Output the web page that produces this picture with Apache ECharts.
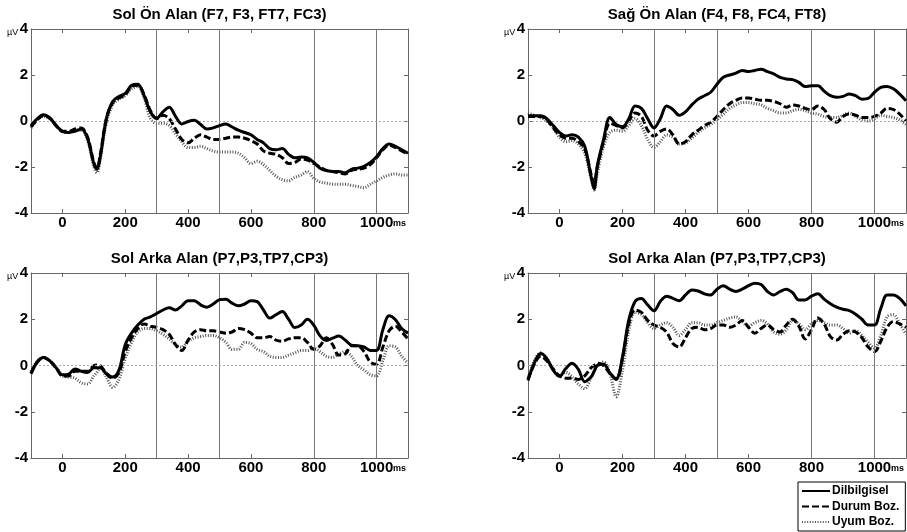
<!DOCTYPE html>
<html><head><meta charset="utf-8">
<script src="https://cdn.jsdelivr.net/npm/echarts@6/dist/echarts.min.js"></script>
<style>html,body{margin:0;padding:0;background:#fff}#c{width:907px;height:532px}</style>
</head><body><div id="c"></div>
<script>
const times = [-100,-80,-60,-40,-20,0,20,40,60,80,100,110,120,140,160,180,200,220,240,260,280,300,320,340,360,380,400,420,440,460,480,500,520,540,560,580,600,620,640,660,680,700,720,740,760,780,800,820,840,860,880,900,920,940,960,980,1000,1020,1040,1060,1080,1100];
const seriesNames = ['Dilbilgisel','Durum Boz.','Uyum Boz.'];
const titles = ['Sol Ön Alan (F7, F3, FT7, FC3)','Sağ Ön Alan (F4, F8, FC4, FT8)','Sol Arka Alan (P7,P3,TP7,CP3)','Sol Arka Alan (P7,P3,TP7,CP3)'];
const xTickValues = [0,200,400,600,800,1000];
const yTickValues = [-4,-2,0,2,4];
const markerTimes = [300,500,800,1000];

// Panel 1: Sol Ön Alan
const p1Dil = [-0.2,0.1,0.27,0.13,-0.2, -0.45,-0.5,-0.45,-0.35,-0.75, -1.85,-2.1,-1.6, 0.1,0.85,1.07,1.2, 1.55,1.6,1.1,0.4,0.12, 0.4,0.6,0.2,-0.13,-0.02, 0.03,-0.15,-0.35,-0.3,-0.2, -0.13,-0.26,-0.4,-0.5,-0.6, -0.8,-0.95,-1.2,-1.25,-1.2, -1.45,-1.6,-1.57,-1.6,-1.8, -2.05,-2.15,-2.2,-2.2,-2.25, -2.1,-2.05,-1.97,-1.8,-1.55, -1.2,-1.0,-1.1,-1.25,-1.4];
const p1Dur = [-0.25,0.05,0.25,0.12,-0.2, -0.45,-0.45,-0.35,-0.3,-0.7, -1.8,-2.05,-1.5, 0.1,0.8,1.0,1.15, 1.5,1.55,1.15,0.45,0.1, 0.25,0.1,-0.35,-0.8,-0.95, -0.75,-0.6,-0.7,-0.8,-0.8, -0.75,-0.7,-0.7,-0.75,-0.85, -1.0,-1.3,-1.4,-1.45,-1.6, -1.85,-1.8,-1.65,-1.7,-1.85, -2.0,-2.15,-2.2,-2.25,-2.3, -2.15,-2.1,-2.05,-1.9,-1.6, -1.25,-1.05,-1.15,-1.3,-1.45];
const p1Uyu = [-0.3,0.05,0.2,0.1,-0.2, -0.45,-0.5,-0.4,-0.4,-0.85, -2.0,-2.25,-1.7, -0.1,0.7,0.95,1.1, 1.4,1.5,1.0,0.1,-0.1, -0.1,-0.2,-0.55,-0.9,-1.15, -1.15,-1.1,-1.2,-1.3,-1.35, -1.35,-1.35,-1.4,-1.6,-1.85, -1.75,-1.9,-2.15,-2.4,-2.55, -2.6,-2.45,-2.35,-2.2,-2.5, -2.65,-2.7,-2.75,-2.75,-2.75, -2.8,-2.85,-2.9,-2.75,-2.6, -2.45,-2.35,-2.3,-2.35,-2.35];
// Panel 2: Sağ Ön Alan
const p2Dil = [0.23,0.23,0.23,0.1,-0.2, -0.5,-0.65,-0.6,-0.7,-1.1, -2.4,-2.95,-1.95, -0.8,0.15,-0.15,-0.25, 0.1,0.65,0.55,0.1,-0.3, 0.1,0.65,0.5,0.25,0.4, 0.7,0.95,1.1,1.25,1.6, 1.9,2.0,2.08,2.2,2.15, 2.2,2.25,2.15,2.05,1.9, 1.83,1.8,1.68,1.5,1.53, 1.53,1.3,1.1,1.03,1.07, 1.17,1.1,0.95,0.98,1.25, 1.46,1.5,1.4,1.17,0.88];
const p2Dur = [0.2,0.2,0.2,0.05,-0.3, -0.6,-0.75,-0.75,-0.9,-1.2, -2.3,-2.7,-2.0, -0.9,-0.1,-0.2,-0.3, 0.0,0.35,0.2,-0.4,-0.65, -0.45,-0.35,-0.6,-1.0,-0.9, -0.6,-0.4,-0.2,-0.05,0.2, 0.5,0.75,0.9,1.0,1.0, 0.95,0.9,0.9,0.85,0.75, 0.6,0.7,0.65,0.55,0.5, 0.65,0.5,0.1,-0.05,0.2, 0.3,0.25,0.15,0.15,0.2, 0.35,0.55,0.5,0.3,0.0];
const p2Uyu = [0.35,0.25,0.15,0.0,-0.3, -0.7,-0.9,-0.85,-1.0,-1.4, -2.5,-3.0,-2.3, -1.1,-0.5,-0.4,-0.45, -0.2,0.1,-0.2,-0.8,-1.15, -0.9,-0.6,-0.7,-1.0,-0.95, -0.75,-0.5,-0.3,-0.15,0.05, 0.3,0.55,0.7,0.8,0.8, 0.75,0.7,0.55,0.45,0.35, 0.35,0.45,0.5,0.45,0.35, 0.3,0.2,0.15,0.15,0.25, 0.35,0.2,0.05,0.0,0.1, 0.25,0.2,0.15,0.05,-0.15];
// Panel 3: Sol Arka Alan (left)
const p3Dil = [-0.35,0.15,0.35,0.2,-0.1, -0.4,-0.37,-0.15,-0.25,-0.3, -0.1,-0.1,-0.1, -0.35,-0.5,-0.2,0.9, 1.4,1.75,2.0,2.1,2.25, 2.4,2.5,2.4,2.58,2.8, 2.8,2.62,2.52,2.66,2.85, 2.87,2.7,2.58,2.66,2.8, 2.76,2.4,2.05,2.2,2.33, 2.0,1.64,1.75,2.0,1.75, 1.28,1.08,1.18,1.28,1.1, 0.88,0.85,0.8,0.65,0.65, 1.55,2.15,1.98,1.6,1.4];
const p3Dur = [-0.35,0.15,0.35,0.2,-0.1, -0.45,-0.45,-0.25,-0.25,-0.25, 0.0,0.02,0.0, -0.35,-0.55,-0.3,0.6, 1.2,1.6,1.8,1.7,1.65, 1.55,1.35,0.9,0.65,1.1, 1.45,1.55,1.5,1.5,1.45, 1.4,1.45,1.6,1.55,1.4, 1.2,1.2,1.25,1.1,1.05, 1.15,1.2,1.2,1.0,0.7, 0.85,1.2,0.9,0.45,0.5, 0.85,0.85,0.6,0.15,0.05, 0.8,1.5,1.7,1.45,1.15];
const p3Uyu = [-0.25,0.2,0.35,0.2,-0.1, -0.45,-0.5,-0.55,-0.75,-0.8, -0.45,-0.3,-0.1, -0.5,-0.95,-0.6,0.3, 1.0,1.45,1.6,1.6,1.5, 1.35,1.15,0.9,0.8,1.05, 1.2,1.25,1.3,1.3,1.2, 1.0,0.7,0.7,1.0,0.95, 0.7,0.6,0.4,0.35,0.35, 0.45,0.55,0.65,0.65,0.75, 0.6,0.4,0.35,0.5,0.6, 0.4,0.0,-0.2,-0.4,-0.45, 0.2,0.85,0.8,0.4,0.1];
// Panel 4: Sol Arka Alan (right)
const p4Dil = [-0.65,0.1,0.52,0.3,-0.2, -0.47,-0.13,0.1,-0.17,-0.7, -0.5,-0.25,0.0, 0.05,-0.32,-0.57,0.38, 1.97,2.77,2.9,2.62,2.37, 2.77,3.0,2.9,2.8,3.05, 3.27,3.22,3.1,3.05,3.3, 3.45,3.3,3.2,3.3,3.45, 3.56,3.5,3.2,3.05,3.2, 3.3,3.15,2.83,2.83,3.0, 3.1,2.87,2.67,2.52,2.43, 2.37,2.22,2.0,1.75,1.75, 2.47,3.05,3.05,2.9,2.58];
const p4Dur = [-0.6,0.05,0.4,0.2,-0.15, -0.45,-0.55,-0.55,-0.6,-0.45, -0.1,0.0,0.1, 0.0,-0.35,-0.6,0.3, 1.8,2.4,2.3,1.95,1.75, 1.65,1.45,0.95,0.8,1.2, 1.6,1.65,1.55,1.6,1.75, 1.75,1.65,1.75,1.95,1.65, 1.4,1.6,1.75,1.55,1.45, 1.75,2.0,1.7,1.15,1.55, 2.05,1.8,1.25,1.1,1.35, 1.5,1.45,1.2,0.8,0.6, 1.05,1.65,1.9,1.8,1.65];
const p4Uyu = [-0.55,0.2,0.55,0.3,-0.2, -0.45,-0.3,-0.5,-0.8,-1.0, -0.55,-0.25,0.0, 0.15,-0.35,-1.35,-0.2, 1.5,2.3,2.2,1.85,1.6, 1.75,1.85,1.65,1.3,1.55, 1.85,1.85,1.75,1.75,1.85, 1.95,2.05,2.1,1.9,1.7, 1.85,1.95,1.8,1.45,1.35, 1.55,1.95,1.8,1.55,1.8, 1.95,1.85,1.75,1.75,1.6, 1.4,1.5,1.3,1.0,0.75, 1.3,2.1,2.2,1.8,1.35];

const panelData = [[p1Dil,p1Dur,p1Uyu],[p2Dil,p2Dur,p2Uyu],[p3Dil,p3Dur,p3Uyu],[p4Dil,p4Dur,p4Uyu]];

const grids = [
  {left:31, top:29, width:377, height:184},
  {left:528, top:29, width:378, height:184},
  {left:31, top:273, width:377, height:185},
  {left:528, top:273, width:378, height:185}
];
const FONT = 'Liberation Sans, Arial, sans-serif';
const axisCol = '#666';
const lineStyles = [
  {color:'#000', width:3, type:'solid'},
  {color:'#000', width:3, type:[7,3]},
  {color:'#555', width:3, type:[1,1.6]}
];

const xAxis = [], yAxis = [], series = [], title = [], graphic = [];
grids.forEach((g, gi) => {
  ['bottom','top'].forEach((pos, k) => {
    xAxis.push({
      type:'value', gridIndex:gi, position:pos, min:-100, max:1100, interval:100,
      axisLine:{show:true, onZero:false, lineStyle:{color:axisCol, width:1}},
      axisTick:{show:true, inside:true, length:4, customValues:xTickValues, lineStyle:{color:axisCol}},
      axisLabel:{show:k===0, customValues:xTickValues, formatter: v => String(v), margin:2, color:'#000', fontFamily:FONT, fontWeight:'bold', fontSize:15},
      splitLine:{show:false}
    });
  });
  ['left','right'].forEach((pos, k) => {
    yAxis.push({
      type:'value', gridIndex:gi, position:pos, min:-4, max:4, interval:2,
      axisLine:{show:true, onZero:false, lineStyle:{color:axisCol, width:1}},
      axisTick:{show:true, inside:true, length:4, customValues:yTickValues, lineStyle:{color:axisCol}},
      axisLabel:{show:k===0, customValues:yTickValues, formatter: v => String(v), margin:3, color:'#000', fontFamily:FONT, fontWeight:'bold', fontSize:15},
      splitLine:{show:false}
    });
  });
  title.push({
    text: titles[gi], left: g.left + g.width/2, top: g.top - 22, textAlign:'center', padding:0,
    textStyle:{fontFamily:FONT, fontWeight:'bold', fontSize:15, color:'#000'}
  });
  graphic.push({type:'text', left:g.left-24, top:g.top-1, style:{text:'µV', font:'9px '+FONT, fill:'#000'}});
  graphic.push({type:'text', left:g.left+g.width-15, top:g.top+g.height+6, style:{text:'ms', font:'bold 9px '+FONT, fill:'#000'}});
  // draw dotted first, then dashed, then solid on top
  [2,1,0].forEach((si, order) => {
    const s = {
      name: seriesNames[si], type:'line', xAxisIndex: gi*2, yAxisIndex: gi*2,
      data: times.map((t, i) => [t, panelData[gi][si][i]]),
      showSymbol:false, symbol:'none', smooth:0.35, lineStyle: lineStyles[si], itemStyle:{color: lineStyles[si].color},
      animation:false, z: 3 + order
    };
    if (order === 0) {
      s.markLine = {
        silent:true, symbol:'none', label:{show:false}, animation:false,
        data: markerTimes.map(t => ({xAxis:t, lineStyle:{color:'#777', width:1, type:'solid'}}))
          .concat([{yAxis:0, lineStyle:{color:'#aaa', width:1, type:[2,2]}}])
      };
    }
    series.push(s);
  });
});

const chart = echarts.init(document.getElementById('c'), null, {renderer:'canvas'});
chart.setOption({
  backgroundColor:'#fff',
  animation:false,
  title, grid: grids, xAxis, yAxis, series, graphic,
  legend:{
    data: seriesNames, orient:'vertical', left:798, top:482,
    itemWidth:28, itemHeight:12, itemGap:3.5, padding:[3,6,3,3],
    borderColor:'#000', borderWidth:1, backgroundColor:'#fff', selectedMode:false,
    itemStyle:{color:'rgba(0,0,0,0)', borderColor:'rgba(0,0,0,0)', borderWidth:0, opacity:0},
    textStyle:{fontFamily:FONT, fontWeight:'bold', fontSize:12, color:'#000', padding:[0,0,0,-3]}
  }
});
</script></body></html>
